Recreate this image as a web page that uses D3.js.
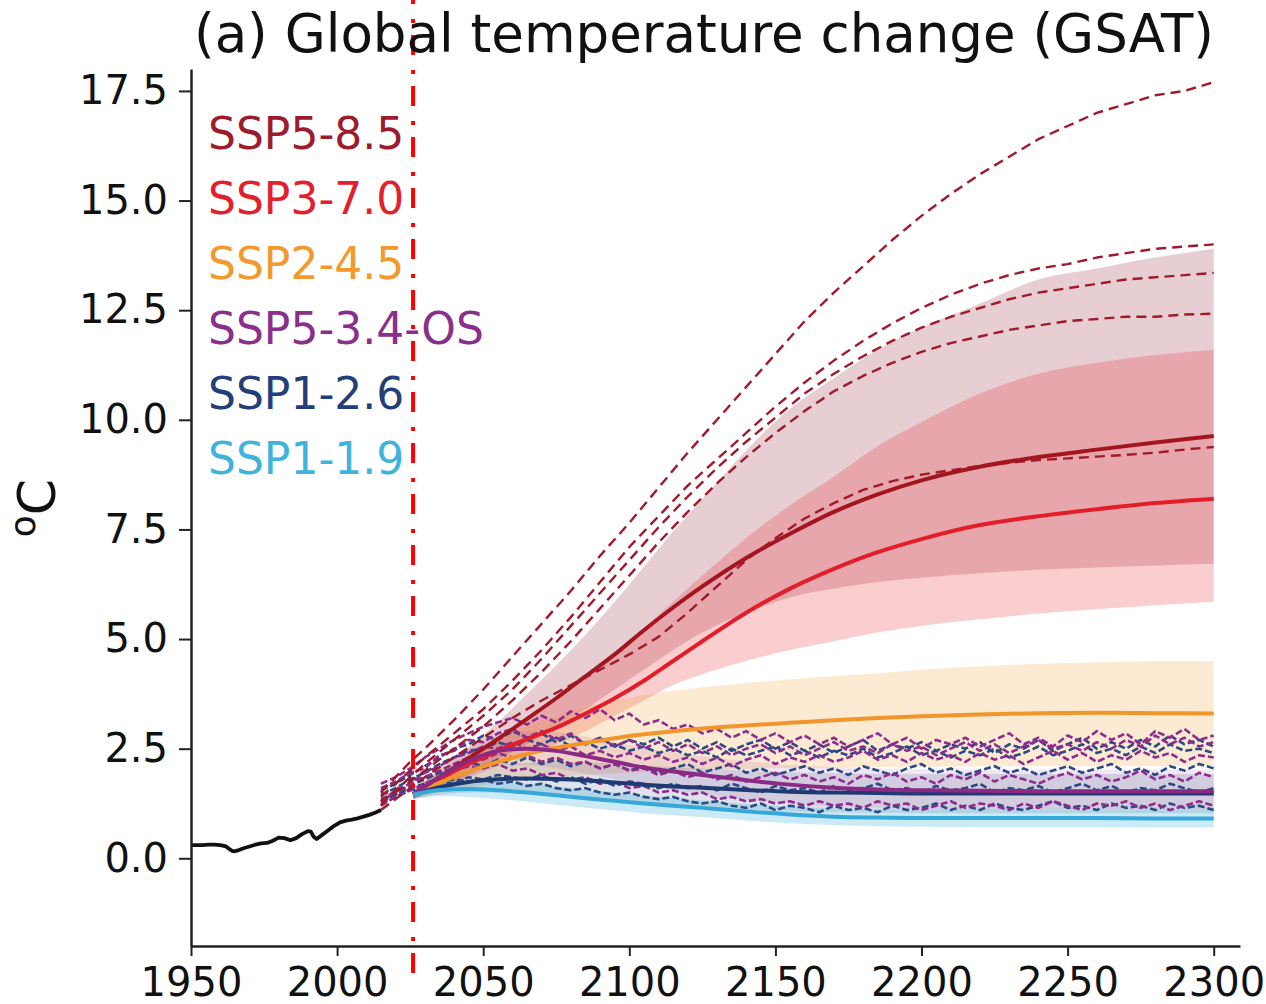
<!DOCTYPE html>
<html><head><meta charset="utf-8">
<script src="https://cdn.jsdelivr.net/npm/d3@7"></script>
<style>body{margin:0;background:#fff} svg{display:block} text{font-family:"DejaVu Sans",sans-serif}</style>
</head><body><svg id="c" width="1266" height="1004"></svg>
<script>
// ---------- data ----------
const xTicks = [1950, 2000, 2050, 2100, 2150, 2200, 2250, 2300];
const yTicks = [0, 2.5, 5, 7.5, 10, 12.5, 15, 17.5];
const titleText = "(a) Global temperature change (GSAT)";
const markerYear = 2026;

const histYears = [1950,1952,1954,1956,1958,1960,1962,1963,1964,1965,1966,1968,1970,1972,1974,1976,1978,1980,1982,1984,1986,1988,1990,1991,1992,1993,1995,1997,1999,2001,2003,2005,2007,2009,2011,2013,2015];
const histValues = [0.30,0.30,0.30,0.31,0.31,0.30,0.27,0.22,0.17,0.16,0.18,0.23,0.27,0.31,0.34,0.35,0.40,0.47,0.46,0.41,0.46,0.55,0.62,0.61,0.49,0.44,0.54,0.64,0.74,0.82,0.86,0.88,0.91,0.95,0.99,1.04,1.10];

const scenarioNames = ["SSP5-8.5","SSP3-7.0","SSP2-4.5","SSP5-3.4-OS","SSP1-2.6","SSP1-1.9"];

const projYears = [2026,2035,2045,2055,2065,2075,2085,2095,2105,2115,2125,2140,2155,2170,2185,2200,2220,2240,2260,2280,2300];
const ssp585Mean = [1.45,1.85,2.28,2.72,3.18,3.65,4.15,4.65,5.2,5.72,6.2,6.85,7.4,7.9,8.3,8.62,8.93,9.15,9.32,9.48,9.63];
const ssp585Low  = [1.35,1.6,1.9,2.25,2.6,3.0,3.4,3.85,4.3,4.75,5.15,5.6,5.95,6.15,6.3,6.4,6.5,6.58,6.63,6.68,6.72];
const ssp585High = [1.55,2.05,2.55,3.1,3.75,4.4,5.1,5.85,6.65,7.45,8.2,9.3,10.25,10.95,11.6,12.1,12.65,13.2,13.45,13.7,13.9];
const ssp370Mean = [1.45,1.8,2.15,2.45,2.72,2.98,3.3,3.65,4.05,4.5,4.95,5.6,6.15,6.6,6.98,7.28,7.6,7.8,7.96,8.1,8.2];
const ssp370Low  = [1.35,1.6,1.85,2.1,2.35,2.6,2.9,3.25,3.6,3.95,4.2,4.5,4.75,4.95,5.15,5.3,5.45,5.58,5.68,5.77,5.85];
const ssp370High = [1.55,1.95,2.35,2.75,3.15,3.6,4.1,4.65,5.25,5.85,6.45,7.3,8.05,8.7,9.4,9.95,10.6,11.05,11.3,11.48,11.6];
const ssp245Mean = [1.45,1.72,1.98,2.2,2.38,2.52,2.63,2.74,2.83,2.9,2.96,3.03,3.09,3.15,3.2,3.24,3.28,3.31,3.32,3.31,3.3];
const ssp245Low  = [1.35,1.5,1.62,1.72,1.8,1.86,1.9,1.94,1.97,2.0,2.02,2.04,2.06,2.07,2.08,2.09,2.1,2.1,2.1,2.1,2.1];
const ssp245High = [1.55,1.95,2.35,2.7,3.0,3.25,3.45,3.6,3.72,3.82,3.9,4.0,4.08,4.15,4.22,4.3,4.38,4.43,4.47,4.5,4.5];
const ssp534Mean = [1.45,1.85,2.22,2.45,2.5,2.45,2.33,2.2,2.07,1.98,1.9,1.78,1.68,1.61,1.57,1.55,1.54,1.53,1.53,1.53,1.53];
const ssp534Low  = [1.35,1.65,1.95,2.1,2.12,2.05,1.93,1.8,1.66,1.55,1.46,1.34,1.25,1.18,1.14,1.12,1.1,1.1,1.1,1.1,1.1];
const ssp534High = [1.55,2.0,2.5,2.8,2.9,2.88,2.78,2.65,2.52,2.42,2.33,2.22,2.13,2.08,2.05,2.03,2.02,2.02,2.02,2.02,2.02];
const ssp126Mean = [1.45,1.62,1.74,1.8,1.82,1.81,1.78,1.73,1.68,1.64,1.61,1.56,1.52,1.5,1.49,1.48,1.48,1.48,1.48,1.48,1.48];
const ssp126Low  = [1.35,1.45,1.5,1.5,1.47,1.43,1.38,1.32,1.26,1.21,1.17,1.11,1.07,1.05,1.04,1.03,1.03,1.03,1.03,1.03,1.03];
const ssp126High = [1.55,1.8,2.0,2.12,2.18,2.2,2.19,2.16,2.12,2.08,2.05,2.0,1.96,1.94,1.93,1.92,1.92,1.92,1.92,1.92,1.92];
const ssp119Mean = [1.45,1.56,1.58,1.55,1.5,1.44,1.37,1.31,1.25,1.2,1.15,1.07,1.0,0.95,0.93,0.92,0.92,0.92,0.92,0.91,0.91];
const ssp119Low  = [1.35,1.42,1.4,1.35,1.29,1.22,1.15,1.09,1.03,0.98,0.94,0.86,0.8,0.76,0.73,0.72,0.71,0.7,0.7,0.7,0.7];
const ssp119High = [1.55,1.7,1.76,1.75,1.7,1.64,1.57,1.5,1.43,1.37,1.32,1.24,1.18,1.14,1.12,1.11,1.11,1.1,1.1,1.1,1.1];

// individual SSP5-8.5 runs (dashed)
const hiRunYears = [2015,2020,2025,2030,2040,2050,2060,2070,2080,2090,2100,2110,2120,2130,2140,2150,2160,2170,2180,2190,2200,2210,2220,2230,2240,2250,2260,2270,2280,2290,2300];
const ssp585Run1 = [1.5,1.85,2.2,2.5,3.15,3.85,4.6,5.35,6.1,6.9,7.65,8.45,9.25,10.0,10.75,11.5,12.25,12.9,13.5,14.1,14.65,15.15,15.6,16.0,16.4,16.7,17.0,17.2,17.4,17.5,17.7];
const ssp585Run2 = [1.4,1.7,2.0,2.3,2.85,3.4,4.05,4.75,5.5,6.3,7.1,7.8,8.5,9.1,9.7,10.3,10.85,11.35,11.8,12.2,12.55,12.85,13.1,13.3,13.45,13.55,13.7,13.8,13.9,13.95,14.0];
const ssp585Run3 = [1.2,1.55,1.85,2.15,2.7,3.25,3.85,4.55,5.3,6.05,6.8,7.55,8.25,8.9,9.5,10.05,10.6,11.05,11.45,11.8,12.1,12.35,12.55,12.75,12.9,13.0,13.1,13.2,13.25,13.3,13.35];
const ssp585Run4 = [1.3,1.5,1.75,2.0,2.5,3.0,3.6,4.25,4.95,5.7,6.45,7.2,7.9,8.55,9.15,9.7,10.2,10.65,11.0,11.3,11.55,11.75,11.9,12.05,12.15,12.25,12.3,12.35,12.35,12.4,12.42];
const ssp585Run5 = [1.1,1.35,1.6,1.85,2.3,2.75,3.2,3.6,3.95,4.3,4.65,5.05,5.6,6.2,6.8,7.3,7.75,8.1,8.4,8.6,8.75,8.85,8.95,9.02,9.08,9.12,9.16,9.2,9.25,9.32,9.38];

// individual low-scenario runs (dashed), every 5 years 2015-2300
const loRunYears = d3.range(2015, 2301, 5);
const ssp534Run0 = [1.7,1.85,2.05,2.3,2.5,2.7,2.85,3.0,3.1,3.2, 3.05,3.25,3.1,3.35,3.2,3.4,3.15,3.3,3.05,3.15, 2.95,3.05,2.85,2.95,2.75,2.9,2.7,2.85,2.65,2.8, 2.6,2.75,2.55,2.7,2.85,2.6,2.75,2.5,2.7,2.6, 2.75,2.55,2.7,2.85,2.6,2.75,2.55,2.8,2.65,2.9, 2.7,2.85,2.6,2.9,2.75,2.95,2.7,2.8];
const ssp534Run1 = [1.6,1.75,1.95,2.05,2.35,2.45,2.7,2.65,2.85,2.95, 2.75,2.9,2.7,2.85,2.6,2.75,2.55,2.7,2.5,2.65, 2.45,2.6,2.4,2.55,2.35,2.5,2.6,2.4,2.55,2.35, 2.5,2.65,2.45,2.55,2.4,2.6,2.45,2.55,2.35,2.5, 2.65,2.45,2.6,2.4,2.55,2.7,2.5,2.6,2.45,2.65, 2.5,2.7,2.55,2.8,2.6,2.75,2.55,2.65];
const ssp534Run2 = [1.3,1.55,1.7,1.95,2.1,2.3,2.4,2.55,2.5,2.65, 2.5,2.6,2.45,2.55,2.35,2.45,2.3,2.4,2.25,2.35, 2.2,2.3,2.15,2.3,2.1,2.25,2.35,2.15,2.3,2.2, 2.35,2.2,2.3,2.45,2.25,2.35,2.2,2.4,2.25,2.35, 2.2,2.4,2.25,2.35,2.15,2.3,2.45,2.25,2.4,2.2, 2.35,2.25,2.45,2.3,2.4,2.2,2.35,2.3];
const ssp534Run3 = [1.5,1.45,1.7,1.85,2.0,2.15,2.3,2.25,2.4,2.3, 2.35,2.2,2.3,2.15,2.2,2.05,2.15,2.0,2.05,1.9, 2.0,1.85,1.95,1.8,1.9,1.75,1.85,1.95,1.8,1.9, 1.75,1.85,1.7,1.9,1.8,1.95,1.75,1.85,1.7,1.9, 1.8,1.95,1.75,1.9,1.8,1.7,1.85,1.95,1.8,1.9, 1.75,1.85,2.0,1.8,1.9,1.75,1.95,1.85];
const ssp534Run4 = [1.2,1.4,1.55,1.7,1.85,2.0,2.1,2.05,2.15,2.0, 2.05,1.9,1.95,1.8,1.85,1.7,1.75,1.6,1.65,1.5, 1.55,1.45,1.5,1.35,1.4,1.3,1.35,1.25,1.3,1.2, 1.3,1.2,1.25,1.15,1.3,1.2,1.25,1.1,1.2,1.3, 1.15,1.25,1.2,1.1,1.25,1.15,1.3,1.2,1.1,1.25, 1.2,1.3,1.15,1.25,1.1,1.2,1.3,1.2];
const ssp126Run0 = [1.55,1.7,1.9,2.1,2.3,2.5,2.6,2.8,2.7,2.9, 2.75,2.85,2.65,2.8,2.6,2.75,2.55,2.7,2.6,2.75, 2.55,2.7,2.5,2.65,2.45,2.6,2.7,2.5,2.65,2.45, 2.6,2.4,2.55,2.7,2.45,2.6,2.5,2.65,2.45,2.6, 2.5,2.65,2.4,2.6,2.5,2.7,2.45,2.6,2.75,2.5, 2.65,2.5,2.7,2.55,2.8,2.6,2.7,2.55];
const ssp126Run1 = [1.45,1.6,1.8,1.95,2.15,2.3,2.45,2.5,2.65,2.55, 2.7,2.6,2.75,2.55,2.65,2.5,2.6,2.45,2.55,2.4, 2.5,2.35,2.45,2.3,2.5,2.35,2.45,2.55,2.35,2.45, 2.3,2.45,2.35,2.5,2.3,2.4,2.55,2.35,2.45,2.3, 2.45,2.35,2.5,2.3,2.4,2.55,2.35,2.45,2.6,2.4, 2.5,2.35,2.55,2.4,2.6,2.45,2.5,2.4];
const ssp126Run2 = [1.35,1.5,1.65,1.8,1.95,2.05,2.2,2.1,2.25,2.15, 2.3,2.15,2.25,2.1,2.2,2.05,2.15,2.0,2.1,1.95, 2.05,2.15,1.95,2.05,2.15,1.95,2.05,1.9,2.0,2.1, 1.95,2.05,1.9,2.1,2.0,1.9,2.05,2.15,1.95,2.05, 1.9,2.0,2.1,1.95,2.05,1.9,2.0,2.1,1.95,2.05, 2.15,1.95,2.05,1.9,2.1,2.0,2.15,2.05];
const ssp126Run3 = [1.25,1.4,1.55,1.6,1.75,1.7,1.85,1.8,1.9,1.85, 1.8,1.9,1.75,1.85,1.7,1.8,1.65,1.75,1.7,1.6, 1.7,1.6,1.65,1.55,1.7,1.6,1.5,1.65,1.55,1.6, 1.5,1.65,1.55,1.6,1.7,1.55,1.6,1.5,1.65,1.55, 1.6,1.7,1.5,1.6,1.55,1.65,1.5,1.6,1.7,1.55, 1.65,1.5,1.6,1.55,1.7,1.6,1.5,1.6];
const ssp126Run4 = [1.3,1.45,1.6,1.7,1.75,1.8,1.75,1.8,1.7,1.75, 1.65,1.7,1.6,1.55,1.6,1.5,1.45,1.5,1.4,1.35, 1.4,1.3,1.25,1.3,1.2,1.15,1.25,1.1,1.2,1.15, 1.05,1.2,1.1,1.15,1.05,1.2,1.1,1.15,1.25,1.1, 1.2,1.1,1.25,1.15,1.1,1.2,1.3,1.15,1.2,1.1, 1.25,1.15,1.2,1.1,1.25,1.15,1.2,1.1];

const legendColors = ["#9c1c2e","#e3202d","#f29a2e","#8a2f8c","#233f7a","#3fb3dc"];

// ---------- layout ----------
const plotLeft = 191, plotRight = 1240, plotTop = 69, plotBottom = 946;
const x = d3.scaleLinear().domain([1950, 2309]).range([plotLeft, plotRight]);
const y = d3.scaleLinear().domain([-2, 18]).range([plotBottom, plotTop]);
const svg = d3.select("#c");

const zip2 = (xs, ys) => xs.map((v, i) => [v, ys[i]]);
const zip3 = (xs, a, b) => xs.map((v, i) => [v, a[i], b[i]]);

const bands = [
  {lo: ssp585Low, hi: ssp585High, fill: "#a03c4b", op: 0.25},
  {lo: ssp370Low, hi: ssp370High, fill: "#e71d25", op: 0.22},
  {lo: ssp245Low, hi: ssp245High, fill: "#f79420", op: 0.2},
  {lo: ssp534Low, hi: ssp534High, fill: "#8a2f8c", op: 0.12},
  {lo: ssp126Low, hi: ssp126High, fill: "#233f7a", op: 0.15},
  {lo: ssp119Low, hi: ssp119High, fill: "#3fb3dc", op: 0.28}
];
const area = d3.area().x(d => x(d[0])).y0(d => y(d[1])).y1(d => y(d[2])).curve(d3.curveMonotoneX);
const gBands = svg.append("g");
bands.forEach(b => {
  gBands.append("path").attr("d", area(zip3(projYears, b.lo, b.hi)))
    .attr("fill", b.fill).attr("fill-opacity", b.op).attr("stroke", "none");
});

// dashed runs
const runLine = d3.line().x(d => x(d[0])).y(d => y(d[1]));
const gRuns = svg.append("g").attr("fill", "none").attr("stroke-linejoin", "round");
const navyRun = "#2b4a84", purpleRun = "#8e2c8e";
const loRuns = [
  {v: ssp126Run0, c: navyRun}, {v: ssp534Run0, c: purpleRun},
  {v: ssp126Run1, c: navyRun}, {v: ssp534Run1, c: purpleRun},
  {v: ssp126Run2, c: navyRun}, {v: ssp534Run2, c: purpleRun},
  {v: ssp126Run3, c: navyRun}, {v: ssp534Run3, c: purpleRun},
  {v: ssp126Run4, c: navyRun}, {v: ssp534Run4, c: purpleRun}
];
loRuns.forEach(r => {
  gRuns.append("path").attr("d", runLine(zip2(loRunYears, r.v)))
    .attr("stroke", r.c).attr("stroke-width", 2.6).attr("stroke-dasharray", "7,3");
});
[ssp585Run1, ssp585Run2, ssp585Run3, ssp585Run4, ssp585Run5].forEach(v => {
  gRuns.append("path").attr("d", runLine(zip2(hiRunYears, v)))
    .attr("stroke", "#a01a2a").attr("stroke-width", 2.4).attr("stroke-dasharray", "10,6");
});

// mean lines
const meanLine = d3.line().x(d => x(d[0])).y(d => y(d[1])).curve(d3.curveMonotoneX);
const means = [
  {v: ssp585Mean, c: "#a3151f"},
  {v: ssp370Mean, c: "#e31e2a"},
  {v: ssp245Mean, c: "#f0962a"},
  {v: ssp126Mean, c: "#1f3a72"},
  {v: ssp534Mean, c: "#8a2a84"},
  {v: ssp119Mean, c: "#35a7d8"}
];
const gMeans = svg.append("g").attr("fill", "none").attr("stroke-linecap", "butt");
means.forEach(m => {
  gMeans.append("path").attr("d", meanLine(zip2(projYears, m.v)))
    .attr("stroke", m.c).attr("stroke-width", 4);
});

// historical
svg.append("path").attr("d", runLine(zip2(histYears, histValues)))
  .attr("fill", "none").attr("stroke", "#111").attr("stroke-width", 3.8).attr("stroke-linejoin", "round");

// axes
const yAxis = d3.axisLeft(y).tickValues(yTicks).tickFormat(d3.format(".1f")).tickSize(12).tickPadding(11).tickSizeOuter(0);
const gy = svg.append("g").attr("transform", `translate(${plotLeft},0)`).call(yAxis);
const xAxis = d3.axisBottom(x).tickValues(xTicks).tickFormat(d3.format("d")).tickSize(10).tickPadding(12).tickSizeOuter(0);
const gx = svg.append("g").attr("transform", `translate(0,${plotBottom})`).call(xAxis);
[gy, gx].forEach(g => {
  g.select(".domain").attr("stroke", "#222").attr("stroke-width", 2.5);
  g.selectAll(".tick line").attr("stroke", "#222").attr("stroke-width", 2);
  g.selectAll(".tick text").attr("fill", "#111").style("font-size", "40px").style("font-family", "DejaVu Sans");
});

// legend
scenarioNames.forEach((n, i) => {
  svg.append("text").attr("x", 208).attr("y", 149 + i * 65)
    .attr("fill", legendColors[i]).style("font-size", "44px").text(n);
});

// vertical marker
svg.append("line").attr("x1", x(markerYear)).attr("x2", x(markerYear)).attr("y1", 0).attr("y2", 979)
  .attr("stroke", "#ff0000").attr("stroke-width", 4)
  .attr("stroke-dasharray", "20,15,4,12").attr("stroke-dashoffset", 16);

// title
svg.append("text").attr("x", 704).attr("y", 52).attr("text-anchor", "middle")
  .attr("fill", "#111").style("font-size", "53px").text(titleText);

// y label
const yl = svg.append("text").attr("transform", "translate(55,508) rotate(-90)")
  .attr("text-anchor", "middle").attr("fill", "#111");
yl.append("tspan").style("font-size", "36px").attr("dy", -20).text("o");
yl.append("tspan").style("font-size", "52px").attr("dy", 20).text("C");
</script></body></html>
